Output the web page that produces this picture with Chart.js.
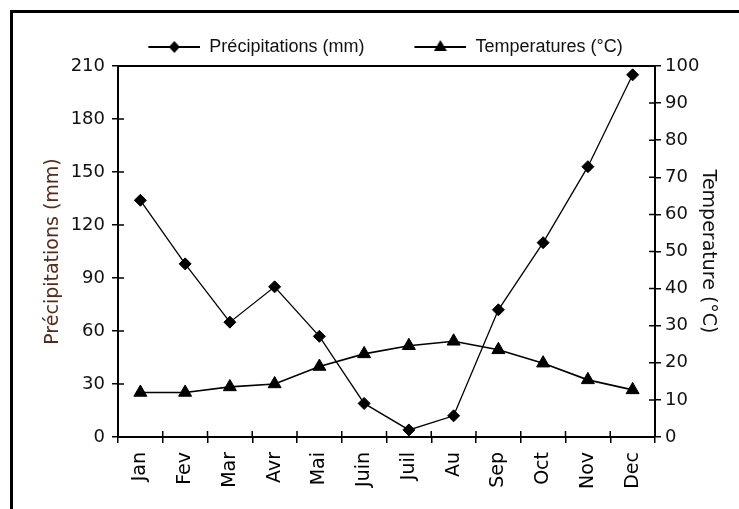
<!DOCTYPE html>
<html>
<head>
<meta charset="utf-8">
<script src="https://cdn.jsdelivr.net/npm/chart.js@4.4.1/dist/chart.umd.min.js"></script>
<style>
  html, body { margin: 0; padding: 0; background: #fff; width: 739px; height: 509px; overflow: hidden; }
  #frame { position: absolute; left: 10px; top: 10px; width: 780px; height: 560px; border: 3px solid #000; }
  #wrap { position: absolute; left: 6px; top: 0; width: 739px; height: 509px; }
</style>
</head>
<body>
<div id="frame"></div>
<div id="wrap"><canvas id="c"></canvas></div>
<script>
// ── DATA ──────────────────────────────────
const months        = ['Jan', 'Fev', 'Mar', 'Avr', 'Mai', 'Juin', 'Juil', 'Au', 'Sep', 'Oct', 'Nov', 'Dec'];
const precipitation = [134, 98, 65, 85, 57, 19, 4, 12, 72, 110, 153, 205];
const temperature   = [12, 12, 13.5, 14.3, 19, 22.4, 24.6, 25.8, 23.5, 19.9, 15.4, 12.7];
const precipTicks   = [0, 30, 60, 90, 120, 150, 180, 210];
const tempTicks     = [0, 10, 20, 30, 40, 50, 60, 70, 80, 90, 100];

const TICK_FONT = { family: 'DejaVu Sans', size: 18 };
const TXT = '#111';

// ── LEGEND ICONS (line + marker) ──────────
function legendIcon(kind) {
  const c = document.createElement('canvas');
  c.width = 72; c.height = 16;
  const g = c.getContext('2d');
  g.strokeStyle = '#000'; g.lineWidth = 2;
  g.beginPath(); g.moveTo(20, 8); g.lineTo(72, 8); g.stroke();
  g.fillStyle = '#000';
  g.beginPath();
  if (kind === 'diamond') {
    g.moveTo(46, 2); g.lineTo(51.5, 8); g.lineTo(46, 14); g.lineTo(40.5, 8);
  } else {
    g.moveTo(46, 1); g.lineTo(52.5, 12); g.lineTo(39.5, 12);
  }
  g.closePath(); g.fill();
  return c;
}
const icons = [legendIcon('diamond'), legendIcon('triangle')];

// ── INNER TICKS + TOP EDGE ────────────────
const innerTicks = {
  id: 'innerTicks',
  afterDraw(chart) {
    const { ctx, chartArea: a, scales } = chart;
    ctx.save();
    ctx.strokeStyle = '#000';
    ctx.lineWidth = 2;
    ctx.beginPath();
    ctx.moveTo(a.left - 1, a.top); ctx.lineTo(a.right + 1, a.top);
    ctx.stroke();
    ctx.lineWidth = 1.5;
    ctx.beginPath();
    scales.y.ticks.forEach((t, i) => {
      const p = scales.y.getPixelForTick(i);
      ctx.moveTo(a.left, p); ctx.lineTo(a.left + 6, p);
    });
    scales.y1.ticks.forEach((t, i) => {
      const p = scales.y1.getPixelForTick(i);
      ctx.moveTo(a.right, p); ctx.lineTo(a.right - 6, p);
    });
    for (let i = 0; i <= months.length; i++) {
      const p = scales.x.getPixelForValue(i - 0.5);
      ctx.moveTo(p, a.bottom); ctx.lineTo(p, a.bottom - 6);
    }
    ctx.stroke();
    ctx.restore();
  }
};

// ── CHART ────────────────────────────────
new Chart(document.getElementById('c'), {
  type: 'line',
  data: {
    labels: months,
    datasets: [
      {
        label: 'Précipitations (mm)',
        data: precipitation,
        yAxisID: 'y',
        borderColor: '#000', borderWidth: 1.3,
        pointStyle: 'rectRot', pointRadius: 6,
        pointBackgroundColor: '#000', pointBorderColor: '#000', pointBorderWidth: 1,
        tension: 0
      },
      {
        label: 'Temperatures (°C)',
        data: temperature,
        yAxisID: 'y1',
        borderColor: '#000', borderWidth: 1.6,
        pointStyle: 'triangle', pointRadius: 7.5,
        pointBackgroundColor: '#000', pointBorderColor: '#000', pointBorderWidth: 1,
        tension: 0
      }
    ]
  },
  options: {
    responsive: true, maintainAspectRatio: false, animation: false,
    layout: { padding: { top: 8, left: 0, right: 0, bottom: 0 } },
    plugins: {
      tooltip: { enabled: false },
      legend: {
        position: 'top',
        labels: {
          usePointStyle: true,
          pointStyleWidth: 72,
          padding: 30,
          color: TXT,
          font: { family: 'Liberation Sans', size: 18 },
          generateLabels(chart) {
            const items = Chart.defaults.plugins.legend.labels.generateLabels(chart);
            items.forEach((it, i) => { it.pointStyle = icons[i]; });
            return items;
          }
        }
      }
    },
    scales: {
      x: {
        offset: true,
        grid: { offset: true, drawOnChartArea: false, drawTicks: true, tickLength: 6, color: '#000', lineWidth: 1.5 },
        border: { color: '#000', width: 2 },
        ticks: { color: '#000', font: { family: 'DejaVu Sans', size: 19 }, maxRotation: 90, minRotation: 90, padding: 9, autoSkip: false },
        afterFit: s => { s.height = 72; }
      },
      y: {
        position: 'left',
        min: 0, max: 210,
        afterBuildTicks: s => { s.ticks = precipTicks.map(v => ({ value: v })); },
        grid: { drawOnChartArea: false, drawTicks: true, tickLength: 6, color: '#000', lineWidth: 1.5 },
        border: { color: '#000', width: 2 },
        ticks: { color: TXT, font: TICK_FONT, padding: 7 },
        title: {
          display: true, text: 'Précipitations (mm)',
          color: '#5a2a18', font: { family: 'DejaVu Sans', size: 19 },
          padding: { top: 36, bottom: 0 }
        },
        afterFit: s => { s.width = 112; }
      },
      y1: {
        position: 'right',
        min: 0, max: 100,
        afterBuildTicks: s => { s.ticks = tempTicks.map(v => ({ value: v })); },
        grid: { drawOnChartArea: false, drawTicks: true, tickLength: 6, color: '#000', lineWidth: 1.5 },
        border: { color: '#000', width: 2 },
        ticks: { color: TXT, font: TICK_FONT, padding: 4 },
        title: {
          display: true, text: 'Temperature (°C)',
          color: TXT, font: { family: 'DejaVu Sans', size: 19 },
          padding: { top: 26, bottom: 0 }
        },
        afterFit: s => { s.width = 90; }
      }
    }
  },
  plugins: [innerTicks]
});
</script>
</body>
</html>
